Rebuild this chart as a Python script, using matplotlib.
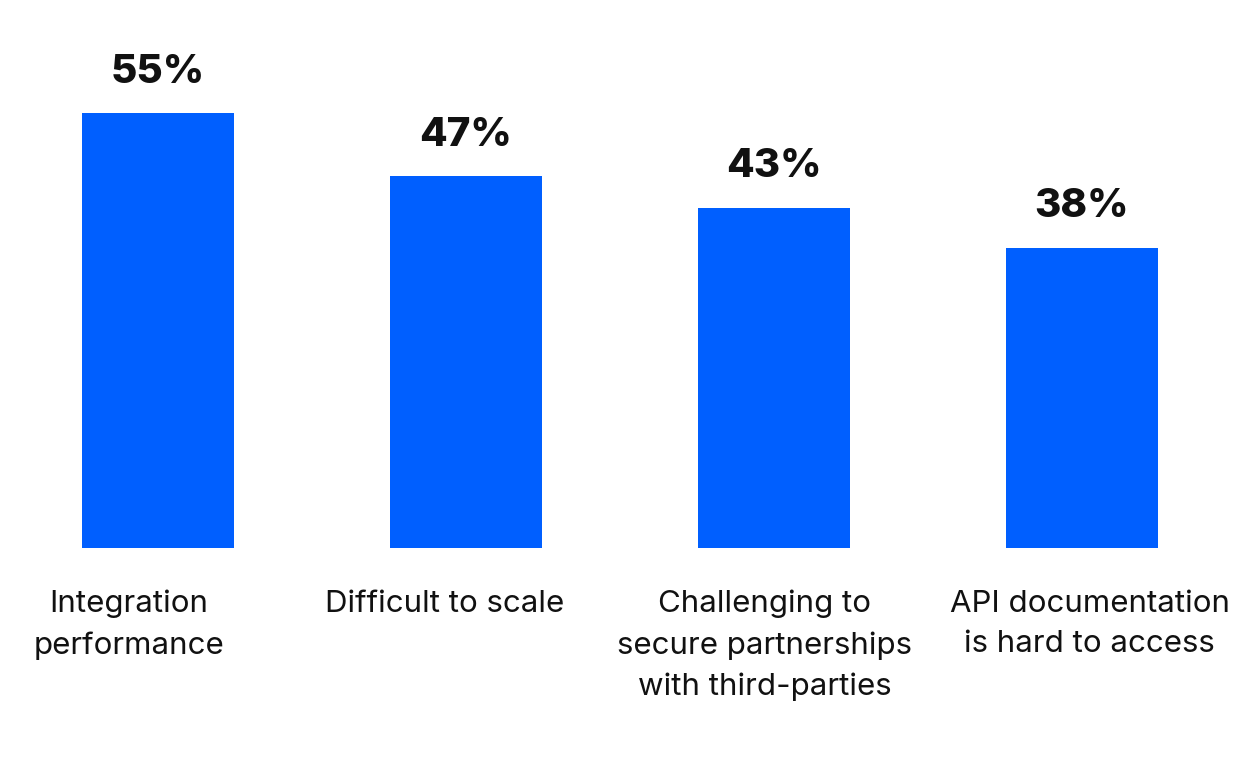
import matplotlib.pyplot as plt

categories = ["Integration\nperformance", "Difficult to scale",
              "Challenging to\nsecure partnerships\nwith third-parties",
              "API documentation\nis hard to access"]
values = [55, 47, 43, 38]

blue = "#005FFF"
ink = "#111111"
label_shift = [-0.095, -0.07, -0.03, 0.025]

fig = plt.figure(figsize=(12.52, 7.58), dpi=100)
ax = fig.add_axes([0, 0.277, 1, 0.626])
x = list(range(len(values)))
ax.bar(x, values, width=0.494, color=blue)
ax.set_xlim(-0.513, 3.552)
ax.set_ylim(0, 60)
ax.axis("off")

for i, v in enumerate(values):
    ax.annotate(f"{v}%", (i, v), xytext=(0, 22), textcoords="offset points",
                ha="center", va="baseline", fontsize=29, fontweight="heavy",
                family="Inter", color=ink)
    ax.annotate(categories[i], (i + label_shift[i], 0), xytext=(0, -30),
                textcoords="offset points", ha="center", va="top",
                fontsize=22.5, family="Inter", color=ink, linespacing=1.58)

fig.savefig("out.png", dpi=100)
